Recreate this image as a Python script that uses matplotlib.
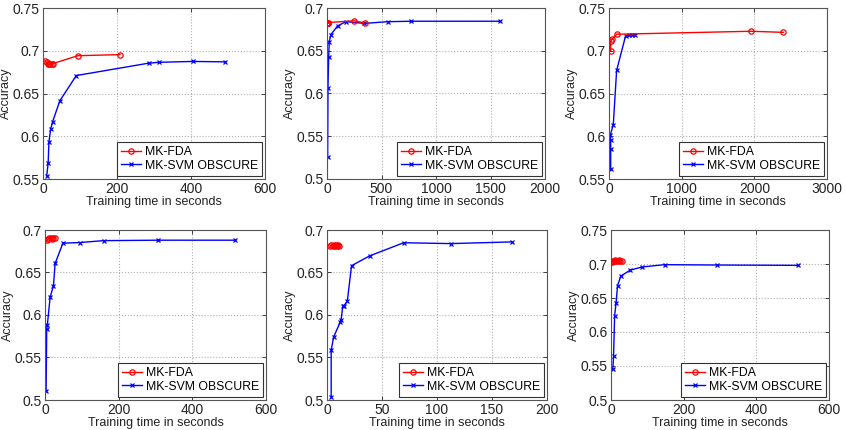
import matplotlib
matplotlib.use('Agg')
import matplotlib.pyplot as plt
from matplotlib.ticker import FuncFormatter

plt.rcParams['font.family'] = ['Liberation Sans', 'DejaVu Sans']

# panel 1
fda_t1 = [5, 10, 13, 17, 20, 24, 27, 94, 208]
fda_acc1 = [0.688, 0.6865, 0.684, 0.684, 0.685, 0.684, 0.685, 0.6942, 0.6955]
svm_t1 = [10, 14, 16, 20.5, 26, 45.5, 90, 286, 314, 405, 493]
svm_acc1 = [0.5537, 0.569, 0.593, 0.608, 0.617, 0.6415, 0.671, 0.6855, 0.6865, 0.6875, 0.687]

# panel 2
fda_t2 = [2, 4, 6, 8, 10, 12, 250, 345]
fda_acc2 = [0.682, 0.683, 0.6825, 0.683, 0.682, 0.683, 0.685, 0.6825]
svm_t2 = [6, 9, 15, 21, 36, 97, 173, 343, 561, 767, 1590]
svm_acc2 = [0.526, 0.6062, 0.6422, 0.6605, 0.669, 0.679, 0.684, 0.682, 0.684, 0.6845, 0.6845]

# panel 3
fda_t3 = [23, 23, 45, 105, 1955, 2401]
fda_acc3 = [0.700, 0.7115, 0.7135, 0.7193, 0.7228, 0.7215]
svm_t3 = [23, 23, 23, 20, 59, 105, 228, 273, 318, 364]
svm_acc3 = [0.5615, 0.5846, 0.596, 0.602, 0.6135, 0.677, 0.7173, 0.7185, 0.719, 0.719]

# panel 4
fda_t4 = [5, 8, 12, 15, 18, 22, 28]
fda_acc4 = [0.688, 0.689, 0.691, 0.691, 0.690, 0.691, 0.691]
svm_t4 = [3, 4.6, 6.4, 14, 23, 27.5, 48.6, 94, 159, 306, 517]
svm_acc4 = [0.51, 0.583, 0.5885, 0.621, 0.6345, 0.6607, 0.6845, 0.6852, 0.6875, 0.688, 0.688]

# panel 5
fda_t5 = [3, 4, 5, 6, 7, 8, 9, 10, 11]
fda_acc5 = [0.681, 0.682, 0.681, 0.682, 0.681, 0.682, 0.681, 0.682, 0.6815]
svm_t5 = [3.8, 3.8, 6, 12, 12.8, 14.3, 15.5, 18.5, 22.3, 38.7, 69.7, 112.7, 168]
svm_acc5 = [0.504, 0.5585, 0.574, 0.5915, 0.594, 0.610, 0.611, 0.6165, 0.658, 0.6695, 0.685, 0.684, 0.686]

# panel 6
fda_t6 = [3, 6, 9, 12, 15, 18, 22, 26, 30]
fda_acc6 = [0.7025, 0.705, 0.704, 0.706, 0.704, 0.705, 0.706, 0.704, 0.705]
svm_t6 = [5, 7, 10, 14, 18, 27, 53, 86, 148, 293, 515]
svm_acc6 = [0.5452, 0.564, 0.624, 0.643, 0.668, 0.6823, 0.691, 0.6957, 0.699, 0.6985, 0.698]

x_ticks = [[0, 200, 400, 600], [0, 500, 1000, 1500, 2000], [0, 1000, 2000, 3000],
           [0, 200, 400, 600], [0, 50, 100, 150, 200], [0, 200, 400, 600]]
y_lims = [(0.55, 0.75), (0.5, 0.7), (0.55, 0.75), (0.5, 0.7), (0.5, 0.7), (0.5, 0.75)]

panels = [
    (fda_t1, fda_acc1, svm_t1, svm_acc1),
    (fda_t2, fda_acc2, svm_t2, svm_acc2),
    (fda_t3, fda_acc3, svm_t3, svm_acc3),
    (fda_t4, fda_acc4, svm_t4, svm_acc4),
    (fda_t5, fda_acc5, svm_t5, svm_acc5),
    (fda_t6, fda_acc6, svm_t6, svm_acc6),
]

# axes boxes in pixels: left, right, top, bottom
boxes = [(43, 265, 8, 179), (327, 545, 8, 179), (609, 827, 8, 179),
         (45, 266, 230, 400), (327, 547, 230, 400), (611, 829, 230, 400)]

W, H = 846, 430
fig = plt.figure(figsize=(W / 100, H / 100), dpi=100)

for i, (ft, fa, st, sa) in enumerate(panels):
    l, r, t, b = boxes[i]
    ax = fig.add_axes([l / W, (H - b) / H, (r - l) / W, (b - t) / H])
    ax.plot(ft, fa, '-o', color='#ff0000', lw=1.0, ms=3.8, mfc='none', mew=0.9,
            label='MK-FDA', zorder=3)
    ax.plot(st, sa, '-x', color='#0000ff', lw=1.0, ms=3.0, mew=0.9,
            label='MK-SVM OBSCURE', zorder=2)
    ax.set_xlim(x_ticks[i][0], x_ticks[i][-1])
    ax.set_ylim(*y_lims[i])
    ax.set_xticks(x_ticks[i])
    ax.yaxis.set_major_locator(plt.MultipleLocator(0.05))
    ax.yaxis.set_major_formatter(FuncFormatter(lambda v, p: '%g' % round(v, 3)))
    ax.grid(True, linestyle=':', color='#b0b0b0', lw=0.8)
    ax.tick_params(direction='in', length=3, width=0.6, top=True, right=True,
                   labelsize=10, pad=2.5, colors='#222222')
    for s in ax.spines.values():
        s.set_color('#555555')
        s.set_linewidth(0.8)
    ax.set_xlabel('Training time in seconds', fontsize=9, labelpad=0, color='#222222')
    ax.set_ylabel('Accuracy', fontsize=9, color='#222222')
    ax.yaxis.set_label_coords(-31 / (r - l), 0.5)
    leg = ax.legend(loc='lower right', fontsize=8.8, fancybox=False, framealpha=1,
                    edgecolor='#333333', borderaxespad=0.25, handlelength=1.6,
                    handletextpad=0.3, labelspacing=0.15, borderpad=0.35)
    leg.get_frame().set_linewidth(0.8)

fig.savefig('out.png', dpi=100)
